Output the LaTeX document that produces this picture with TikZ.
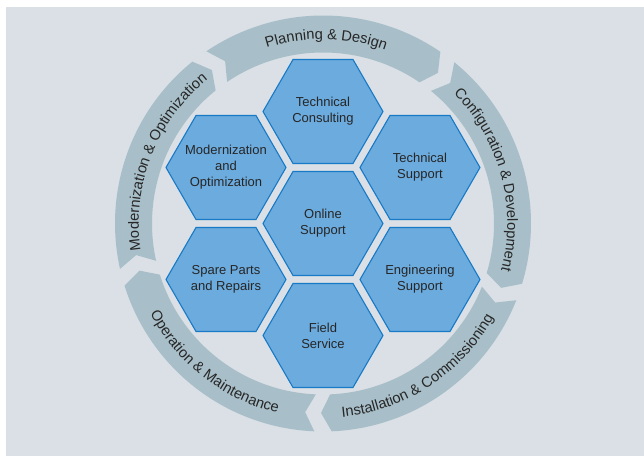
\documentclass[tikz,border=0pt]{standalone}
\usepackage{fontspec}
\setmainfont{Liberation Sans}
\usetikzlibrary{shapes.geometric}
\definecolor{bgc}{RGB}{218,224,229}
\definecolor{ringc}{RGB}{168,191,201}
\definecolor{hexfill}{RGB}{108,171,222}
\definecolor{hexline}{RGB}{24,122,198}
\definecolor{txtc}{RGB}{38,38,38}
\newcommand\ringfont{\fontsize{14.7}{16}\selectfont}
\newcommand\ringseg[2]{\fill[ringc] (#1:208) arc[start angle=#1, end angle=#2, radius=208] -- ({#2-3}:189.5) -- (#2:171) arc[start angle=#2, end angle=#1, radius=171] -- ({#1-3}:189.5) -- cycle;}
% #1 radius, #2 centre angle, #3 direction (1 ccw, tops inward; -1 cw, tops outward), #4 name, #5 char/width list
\newcommand\arctext[5]{%
  \gdef\totw{0}%
  \foreach \rc/\rw in {#5}{%
    \pgfmathparse{\totw+\rw*14.7}\xdef\totw{\pgfmathresult}%
  }%
  \pgfmathparse{#2-(#3)*(\totw/2)/#1*180/pi}\xdef\curang{\pgfmathresult}%
  \foreach \rc/\rw [count=\ri] in {#5}{%
    \pgfmathparse{\curang+(#3)*(\rw*7.35)/#1*180/pi}\let\midang\pgfmathresult
    \pgfmathparse{\midang+(#3)*90}\let\rotang\pgfmathresult
    \node[ringlabel, rotate=\rotang] (#4\ri) at (\midang:#1) {\rc};
    \pgfmathparse{\curang+(#3)*(\rw*14.7)/#1*180/pi}\xdef\curang{\pgfmathresult}%
  }%
}
\begin{document}
\begin{tikzpicture}[x=1pt,y=1pt,
  hexbox/.style={regular polygon, regular polygon sides=6, minimum size=120pt, inner sep=0pt,
    fill=hexfill, draw=hexline, line width=1.1pt},
  hextext/.style={align=center, text=txtc, inner sep=0pt, font=\fontsize{13}{16}\selectfont},
  ringlabel/.style={anchor=base, inner sep=0pt, outer sep=0pt, text=txtc, font=\ringfont}]
\useasboundingbox (-323,-232.5) rectangle (321,223.5);
\fill[white] (-323,-232.5) rectangle (321,223.5);
\fill[bgc] (-317,-232.5) rectangle (321,216.5);
% ring segments
\ringseg{124.1}{55.65}
\ringseg{50.85}{-16.85}
\ringseg{-21.65}{-87.6}
\ringseg{267.6}{197.4}
\ringseg{192.6}{128.9}
% ring texts
\arctext{184.3}{89}{-1}{plan}{P/.667,l/.222,a/.556,n/.556,n/.556,i/.222,n/.556,g/.556,\space/.278,\&/.667,\space/.278,D/.722,e/.556,s/.5,i/.222,g/.556,n/.556}
\arctext{184.3}{15}{-1}{conf}{C/.722,o/.556,n/.556,f/.278,i/.222,g/.556,u/.556,r/.333,a/.556,t/.278,i/.222,o/.556,n/.556,\space/.278,\&/.667,\space/.278,D/.722,e/.556,v/.5,e/.556,l/.222,o/.556,p/.556,m/.833,e/.556,n/.556,t/.278}
\arctext{184.3}{158.5}{-1}{mod}{M/.833,o/.556,d/.556,e/.556,r/.333,n/.556,i/.222,z/.5,a/.556,t/.278,i/.222,o/.556,n/.556,\space/.278,\&/.667,\space/.278,O/.778,p/.556,t/.278,i/.222,m/.833,i/.222,z/.5,a/.556,t/.278,i/.222,o/.556,n/.556}
\arctext{194.8}{-56.6}{1}{inst}{I/.278,n/.556,s/.5,t/.278,a/.556,l/.222,l/.222,a/.556,t/.278,i/.222,o/.556,n/.556,\space/.278,\&/.667,\space/.278,C/.722,o/.556,m/.833,m/.833,i/.222,s/.5,s/.5,i/.222,o/.556,n/.556,i/.222,n/.556,g/.556}
\arctext{194.8}{232}{1}{oper}{O/.778,p/.556,e/.556,r/.333,a/.556,t/.278,i/.222,o/.556,n/.556,\space/.278,\&/.667,\space/.278,M/.833,a/.556,i/.222,n/.556,t/.278,e/.556,n/.556,a/.556,n/.556,c/.5,e/.556}
% hexagons
\node[hexbox] (online) at (0,0) {};
\node[hexbox] (consult) at (0,112) {};
\node[hexbox] (modern) at (-97,56) {};
\node[hexbox] (tsupport) at (97,56) {};
\node[hexbox] (spare) at (-97,-56) {};
\node[hexbox] (eng) at (97,-56) {};
\node[hexbox] (field) at (0,-112) {};
\node[hextext] (onlinet) at (online) {Online\\Support};
\node[hextext] (consultt) at (consult) {Technical\\Consulting};
\node[hextext] (modernt) at (modern) {Modernization\\and\\Optimization};
\node[hextext] (tsupportt) at (tsupport) {Technical\\Support};
\node[hextext] (sparet) at (spare) {Spare Parts\\and Repairs};
\node[hextext] (engt) at (eng) {Engineering\\Support};
\node[hextext] (fieldt) at (field) {Field\\Service};
\end{tikzpicture}
\end{document}
